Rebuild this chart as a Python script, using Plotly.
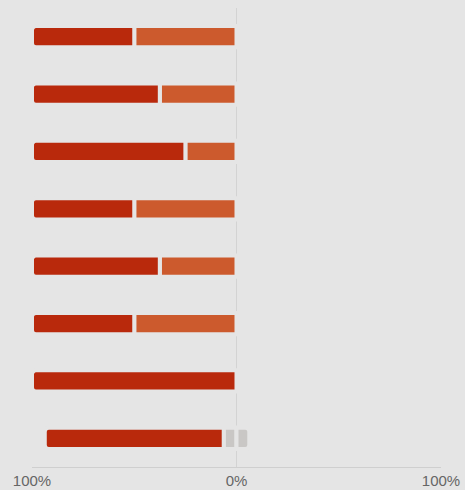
import plotly.graph_objects as go

questions = ["Q1", "Q2", "Q3", "Q4", "Q5", "Q6", "Q7", "Q8"]
strong_neg = [50, 62.5, 75, 50, 62.5, 50, 100, 87.5]
neg = [50, 37.5, 25, 50, 37.5, 50, None, None]
neutral = [None, None, None, None, None, None, None, 12.5]

tick_vals = [-100, 0, 100]
tick_text = ["100%", "0%", "100%"]

BG = "#e5e5e5"
DARK = "#b9290c"
ORANGE = "#cc5a2d"
GRAY = "#c9c7c5"

def negv(vals, f=1.0):
    return [None if v is None else -v * f for v in vals]

def posv(vals, f=1.0):
    return [None if v is None else v * f for v in vals]

line = dict(color=BG, width=4)
fig = go.Figure()
fig.add_bar(y=questions, x=negv(neutral, 0.5), orientation="h", name="Neutral",
            marker=dict(color=GRAY, line=line, cornerradius=4))
fig.add_bar(y=questions, x=negv(neg), orientation="h", name="Disagree",
            marker=dict(color=ORANGE, line=line, cornerradius=4))
fig.add_bar(y=questions, x=negv(strong_neg), orientation="h", name="Strongly disagree",
            marker=dict(color=DARK, line=line, cornerradius=4))
fig.add_bar(y=questions, x=posv(neutral, 0.5), orientation="h", name="Neutral ",
            marker=dict(color=GRAY, line=line, cornerradius=4))

fig.update_layout(
    width=465, height=490,
    margin=dict(l=32, r=24, t=8, b=23, autoexpand=False),
    paper_bgcolor=BG, plot_bgcolor=BG,
    barmode="relative", bargap=0.63,
    showlegend=False,
    font=dict(family="Liberation Sans, Arial, sans-serif", size=15, color="#666666"),
)
fig.update_xaxes(range=[-100, 100], tickvals=tick_vals, ticktext=tick_text,
                 showgrid=True, gridcolor="#d3d3d3", gridwidth=1,
                 zeroline=False, showline=True, linecolor="#cfcfcf", linewidth=1,
                 ticks="", ticklen=0, fixedrange=True, automargin=False)
fig.update_yaxes(autorange="reversed", showticklabels=False, showgrid=False,
                 zeroline=False, showline=False, ticks="", fixedrange=True,
                 automargin=False)

fig.write_html(
    "out.html",
    config={"displayModeBar": False},
    post_script="document.body.style.margin='0';document.body.style.background='#e5e5e5';document.body.style.overflow='hidden';",
)
